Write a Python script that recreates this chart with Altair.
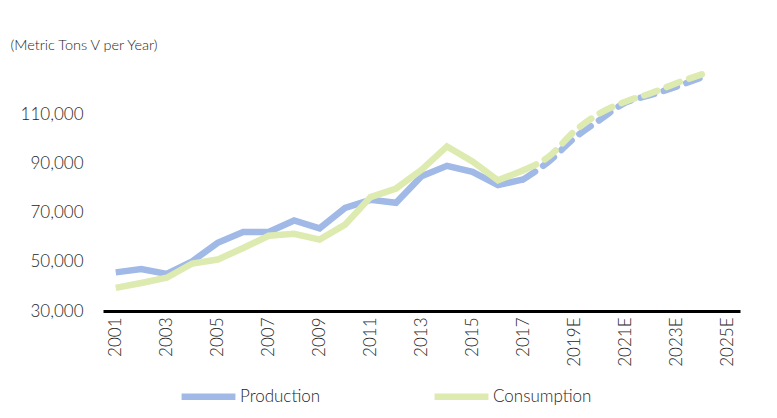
import altair as alt
import pandas as pd

years = [str(y) for y in range(2001, 2019)] + [f"{y}E" for y in range(2019, 2026)]
# actual years 2001-2017, forecasts 2017-2024E
act_years = [str(y) for y in range(2001, 2018)]
prod_act = [45700, 47100, 45100, 50200, 57700, 62100, 62100, 66800, 63600, 71900,
            75200, 74000, 84800, 89000, 86600, 81200, 83500]
cons_act = [39400, 41400, 43500, 49300, 50900, 55600, 60600, 61400, 59000, 65100,
            76300, 79800, 87400, 96900, 90800, 83100, 87200]
fc_years = ["2017", "2018", "2019E", "2020E", "2021E", "2022E", "2023E", "2024E"]
prod_fc = [83500, 90800, 100300, 107700, 114700, 117800, 121200, 125000]
cons_fc = [87200, 92800, 103000, 110400, 115100, 118500, 122600, 126200]
tick_labels = [years[i] for i in range(0, 25, 2)]
y_ticks = [30000, 50000, 70000, 90000, 110000]

rows_a = []
for yr, p, c in zip(act_years, prod_act, cons_act):
    rows_a.append({"year": yr, "series": "Production", "value": p})
    rows_a.append({"year": yr, "series": "Consumption", "value": c})
rows_f = []
for yr, p, c in zip(fc_years, prod_fc, cons_fc):
    rows_f.append({"year": yr, "series": "Production", "value": p})
    rows_f.append({"year": yr, "series": "Consumption", "value": c})
df_a = pd.DataFrame(rows_a)
df_f = pd.DataFrame(rows_f)

FONT = "Lato"
TXT = "#262626"
W = 300

color_scale = alt.Scale(domain=["Production", "Consumption"], range=["#A0B9E6", "#DDEAB0"])
legend = alt.Legend(
    title=None, orient="none", direction="horizontal", legendX=75, legendY=301,
    symbolType="stroke", symbolSize=2900, symbolStrokeWidth=6.5,
    labelFontSize=17, labelFont=FONT, labelFontWeight=W, labelColor=TXT, labelOffset=1,
    columnPadding=100,
)

x_enc = alt.X("year:N", sort=years, scale=alt.Scale(domain=years, type="point", padding=0.5),
              axis=alt.Axis(title=None, values=tick_labels, labelAngle=-90, labelAlign="right",
                            labelBaseline="middle", labelFontSize=17, labelFont=FONT,
                            labelFontWeight=W, labelColor=TXT, labelPadding=6, ticks=False,
                            domainColor="black", domainWidth=3, grid=False))
y_enc = alt.Y("value:Q", scale=alt.Scale(domain=[30000, 130000], nice=False),
              axis=alt.Axis(values=y_ticks, format=",.0f", labelFontSize=17, labelFont=FONT,
                            labelFontWeight=W, labelColor=TXT, labelPadding=20, ticks=False,
                            domain=False, grid=False, title="(Metric Tons V per Year)",
                            titleAngle=0, titleAlign="left", titleBaseline="middle",
                            titleX=-93, titleY=-20, titleFont=FONT, titleFontSize=14.5,
                            titleFontWeight=W, titleColor=TXT))

solid = alt.Chart(df_a).mark_line(strokeWidth=6.5, strokeJoin="miter").encode(
    x=x_enc, y=y_enc,
    color=alt.Color("series:N", scale=color_scale, sort=["Production", "Consumption"], legend=legend),
    detail="series:N",
)
dashed = alt.Chart(df_f).mark_line(strokeWidth=6.5, strokeDash=[14, 10], strokeCap="round",
                                   interpolate="monotone").encode(
    x=x_enc, y=y_enc,
    color=alt.Color("series:N", scale=color_scale, sort=["Production", "Consumption"], legend=legend),
    detail="series:N",
)

chart = alt.layer(solid, dashed).properties(
    width=637, height=246,
    autosize=alt.AutoSizeParams(type="none"),
    padding={"left": 95, "top": 57, "right": 20, "bottom": 95},
    background="white",
).configure_view(stroke=None)

chart.save("out.html", embed_options={"renderer": "svg", "actions": False})
